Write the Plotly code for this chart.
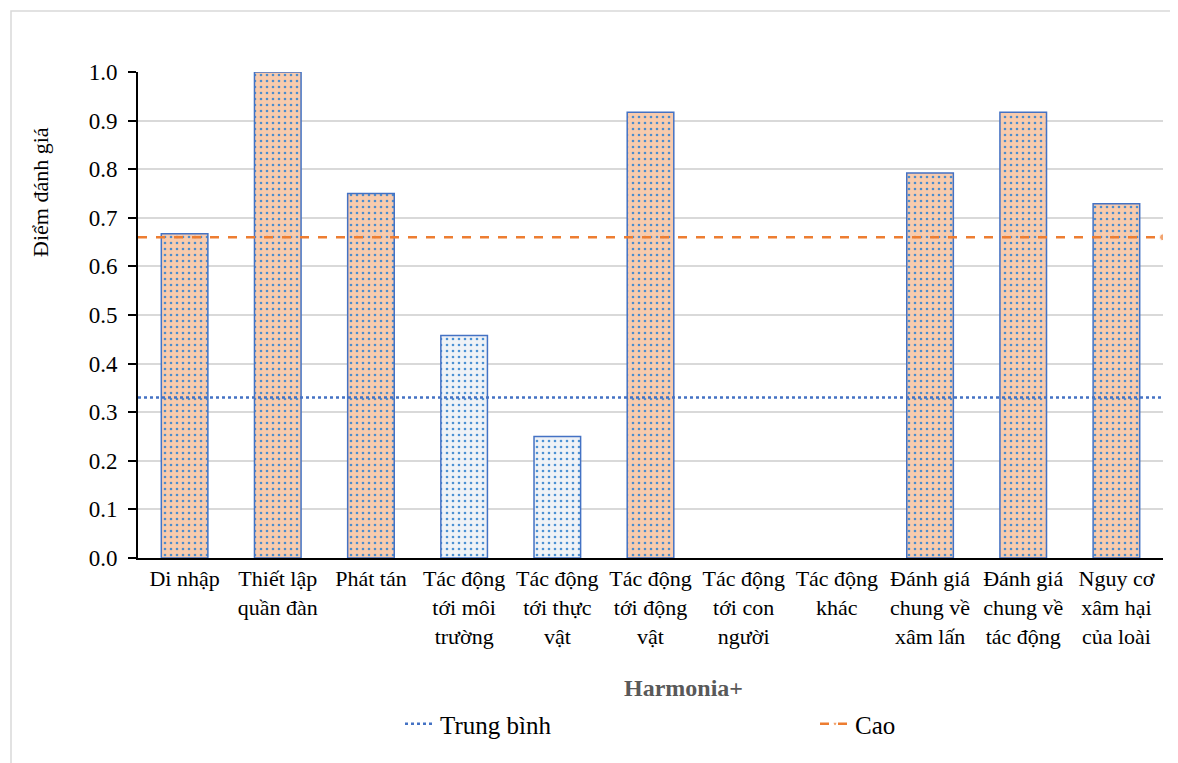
import plotly.graph_objects as go

categories = ["Di nhập", "Thiết lập<br>quần đàn", "Phát tán", "Tác động<br>tới môi<br>trường",
              "Tác động<br>tới thực<br>vật", "Tác động<br>tới động<br>vật", "Tác động<br>tới con<br>người",
              "Tác động<br>khác", "Đánh giá<br>chung về<br>xâm lấn", "Đánh giá<br>chung về<br>tác động",
              "Nguy cơ<br>xâm hại<br>của loài"]
scores = [0.667, 1.0, 0.75, 0.458, 0.25, 0.917, 0.0, 0.0, 0.792, 0.917, 0.729]
threshold_medium = 0.33
threshold_high = 0.66
y_ticks = [0.0, 0.1, 0.2, 0.3, 0.4, 0.5, 0.6, 0.7, 0.8, 0.9, 1.0]

FONT = "Liberation Serif"
OFF = 8  # page body margin
W, H = 1178 - OFF, 763 - OFF
L, T = 138 - OFF, 72 - OFF
pw, ph = 1025, 486
R, B = W - L - pw, H - T - ph

n = len(categories)
xs = list(range(n))
hi_x = [i for i, v in enumerate(scores) if v >= threshold_high]
hi_y = [scores[i] for i in hi_x]
lo_x = [i for i, v in enumerate(scores) if 0 < v < threshold_high]
lo_y = [scores[i] for i in lo_x]

fig = go.Figure()
for bx, by, bgc in [(hi_x, hi_y, "#F8CBAD"), (lo_x, lo_y, "#EFF2F6")]:
    fig.add_trace(go.Bar(
        x=bx, y=by, width=0.5, showlegend=False,
        marker=dict(color=bgc, line=dict(color="#4472C4", width=1.5),
                    pattern=dict(shape=".", fgcolor="#3A86D0", fgopacity=0.9, bgcolor=bgc,
                                 size=6, solidity=0.15, fillmode="replace")),
    ))
fig.add_trace(go.Scatter(
    x=[-0.5, n - 0.5], y=[threshold_medium] * 2, mode="lines", name="Trung bình",
    line=dict(color="#4472C4", width=2.5, dash="dot"), legend="legend",
))
fig.add_trace(go.Scatter(
    x=[-0.5, n - 0.5], y=[threshold_high] * 2, mode="lines+markers", name="Cao",
    line=dict(color="#ED7D31", width=2.5, dash="dash"),
    marker=dict(color="#ED7D31", size=[0, 7]), legend="legend2",
))

# outer border
x0 = (11 - OFF - L) / pw
x1 = (W + 5 - L) / pw
y1 = 1 + (T - (11 - OFF)) / ph
y0 = -(H + 5 - T - ph) / ph
fig.add_shape(type="rect", xref="paper", yref="paper", x0=x0, x1=x1, y0=y0, y1=y1,
              line=dict(color="#D9D9D9", width=1.5), fillcolor="rgba(0,0,0,0)", layer="below")

# axis titles as annotations (positioned like the original)
fig.add_annotation(text="Điểm đánh giá", textangle=-90, xref="paper", yref="paper",
                   x=(40 - 138) / pw, y=1 - (192 - 72) / ph, showarrow=False,
                   xanchor="center", yanchor="middle",
                   font=dict(family=FONT, size=22, color="black"))
fig.add_annotation(text="<b>Harmonia+</b>", xref="paper", yref="paper",
                   x=(683 - 138) / pw, y=-(688 - 558) / ph, showarrow=False,
                   xanchor="center", yanchor="middle",
                   font=dict(family=FONT, size=24, color="#595959"))

legend_y = 1 - (701 - OFF) / H
leg_common = dict(orientation="h", xref="container", yref="container", y=legend_y, yanchor="top",
                  xanchor="left", font=dict(family=FONT, size=25, color="black"),
                  bgcolor="rgba(0,0,0,0)")

fig.update_layout(
    width=W, height=H,
    margin=dict(l=L, r=R, t=T, b=B, autoexpand=False),
    paper_bgcolor="white", plot_bgcolor="white",
    font=dict(family=FONT, size=22, color="black"),
    barmode="overlay",
    legend=dict(x=(400 - OFF) / W, **leg_common),
    legend2=dict(x=(815 - OFF) / W, **leg_common),
    xaxis=dict(tickmode="array", tickvals=xs, ticktext=categories, range=[-0.5, n - 0.5],
               showline=True, linecolor="black", linewidth=2, ticks="", showgrid=False,
               tickfont=dict(family=FONT, size=22, color="black"), zeroline=False),
    yaxis=dict(range=[0, 1.0], tickmode="array", tickvals=y_ticks,
               ticktext=[f"{v:.1f}" for v in y_ticks],
               showline=True, linecolor="black", linewidth=2, ticks="outside", ticklen=8,
               tickcolor="black", tickwidth=2, showgrid=True, gridcolor="#D9D9D9", gridwidth=1.5,
               zeroline=False, tickfont=dict(family=FONT, size=23, color="black"),
               ticklabelstandoff=6),
)
fig.write_html("out.html")
